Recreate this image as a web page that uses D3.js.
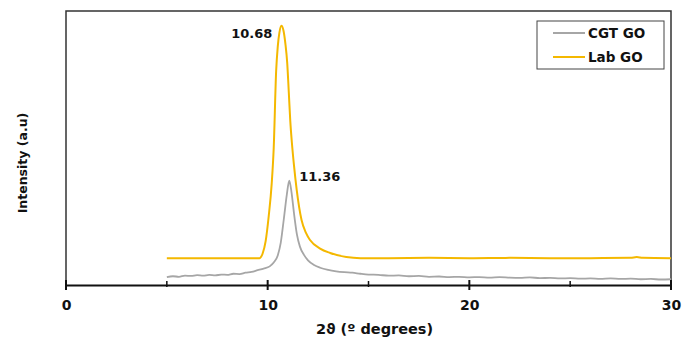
<!DOCTYPE html>
<html>
<head>
<meta charset="utf-8">
<script src="https://cdn.jsdelivr.net/npm/d3@7"></script>
<style>
  body { margin: 0; background: #fff; }
  text { font-family: "DejaVu Sans", Verdana, sans-serif; font-weight: bold; fill: #111; }
</style>
</head>
<body>
<div id="chart"></div>
<script>
// values: [2theta, intensity (arbitrary units)]
var cgtGO = [
  [5.0,2.9],[5.3,3.2],[5.6,3.0],[5.9,3.4],[6.2,3.3],[6.5,3.6],[6.8,3.4],[7.1,3.7],[7.4,3.5],[7.7,3.8],
  [8.0,3.7],[8.3,4.1],[8.6,4.0],[8.9,4.5],[9.2,4.8],[9.5,5.4],[9.8,6.0],[10.1,6.8],[10.3,8.2],[10.5,10.8],
  [10.65,15.5],[10.8,24],[10.95,33],[11.07,38.1],[11.18,34],[11.3,26.5],[11.45,18.5],[11.6,14],[11.8,11.0],
  [12.0,9.0],[12.3,7.3],[12.6,6.3],[13.0,5.5],[13.4,5.0],[13.8,4.7],[14.2,4.5],[14.6,4.1],[15.0,3.8],
  [15.5,3.7],[16.0,3.4],[16.5,3.5],[17.0,3.2],[17.5,3.3],[18.0,3.0],[18.5,3.1],[19.0,2.9],[19.5,3.0],
  [20.0,2.8],[20.5,2.9],[21.0,2.7],[21.5,2.9],[22.0,2.7],[22.5,2.6],[23.0,2.8],[23.5,2.5],[24.0,2.6],
  [24.5,2.4],[25.0,2.5],[25.5,2.3],[26.0,2.4],[26.5,2.2],[27.0,2.4],[27.5,2.2],[28.0,2.3],[28.5,2.1],
  [29.0,2.2],[29.5,2.0],[30.0,2.1]
];

var labGO = [
  [5.0,9.8],[6,9.8],[7,9.8],[8,9.8],[9,9.8],[9.6,9.8],[9.75,11.5],[9.9,16],[10.05,25],[10.2,37],
  [10.3,50],[10.42,78],[10.5,87],[10.58,92],[10.68,94.6],[10.78,93],[10.88,88],[10.97,81],[11.05,70],
  [11.12,60],[11.2,52],[11.3,44],[11.44,34.7],[11.68,23.7],[11.9,19],[12.1,16.4],[12.6,13.3],
  [13.1,11.7],[13.9,10.2],[14.6,9.8],[16,9.8],[18,9.9],[20,9.8],[22,9.9],[24,9.8],[26,9.8],[28,9.9],
  [28.3,10.2],[28.6,9.9],[30,9.8]
];

var seriesNames = ["CGT GO", "Lab GO"];
var seriesColors = ["#a6a6a6", "#f4b800"];
var peakLabels = [
  { text: "10.68", x: 10.68, y: 94.6, series: 1 },
  { text: "11.36", x: 11.07, y: 38.1, series: 0 }
];
var xTicks = [0, 10, 20, 30];
var xMinorTicks = [5, 15, 25];

var W = 685, H = 346;
var margin = {top: 11, right: 14, bottom: 61, left: 66};
var width = W - margin.left - margin.right,
    height = H - margin.top - margin.bottom;

var svg = d3.select("#chart").append("svg")
    .attr("width", W)
    .attr("height", H);
var g = svg.append("g")
    .attr("transform", "translate(" + margin.left + "," + margin.top + ")");

var x = d3.scaleLinear().domain([0, 30]).range([0, width]);
var y = d3.scaleLinear().domain([0, 100]).range([height, 0]);

// frame (top, right)
g.append("path")
  .attr("d", "M0," + height + "V0H" + width + "V" + height)
  .attr("fill", "none")
  .attr("stroke", "#333")
  .attr("stroke-width", 1.5);

var line = d3.line()
  .x(d => x(d[0]))
  .y(d => y(d[1]))
  .curve(d3.curveMonotoneX);

[cgtGO, labGO].forEach(function(data, i) {
  g.append("path")
    .datum(data)
    .attr("fill", "none")
    .attr("stroke", seriesColors[i])
    .attr("stroke-width", i == 0 ? 1.8 : 2)
    .attr("d", line);
});

// x axis
var xAxis = g.append("g")
  .attr("transform", "translate(0," + height + ")")
  .call(d3.axisBottom(x).tickValues(xTicks).tickSize(0).tickPadding(15));
xAxis.select(".domain").attr("stroke", "#111").attr("stroke-width", 2.2);
xAxis.selectAll("text").style("font-size", "14px").style("font-family", "DejaVu Sans");

xAxis.selectAll(".major").data(xTicks).enter().append("line")
  .attr("x1", d => x(d)).attr("x2", d => x(d))
  .attr("y1", -5).attr("y2", 5)
  .attr("stroke", "#111").attr("stroke-width", 2);
xAxis.selectAll(".minor").data(xMinorTicks).enter().append("line")
  .attr("x1", d => x(d)).attr("x2", d => x(d))
  .attr("y1", -4).attr("y2", 2)
  .attr("stroke", "#111").attr("stroke-width", 1.5);

// axis titles
svg.append("text")
  .attr("x", margin.left + width / 2 + 6)
  .attr("y", 334)
  .attr("text-anchor", "middle")
  .style("font-size", "14.5px")
  .text("2\u03D1 (\u00BA degrees)");

svg.append("text")
  .attr("transform", "translate(27," + (margin.top + height / 2 + 15) + ") rotate(-90)")
  .attr("text-anchor", "middle")
  .style("font-size", "12.5px")
  .text("Intensity (a.u)");

// peak labels
g.selectAll(".peak").data(peakLabels).enter().append("text")
  .attr("x", d => d.series == 1 ? x(d.x) - 9 : x(d.x) + 10)
  .attr("y", d => d.series == 1 ? y(d.y) + 12 : y(d.y))
  .attr("text-anchor", d => d.series == 1 ? "end" : "start")
  .style("font-size", "13px")
  .text(d => d.text);

// legend
var legend = svg.append("g").attr("transform", "translate(537,21)");
legend.append("rect")
  .attr("width", 127).attr("height", 48)
  .attr("fill", "#fff").attr("stroke", "#444").attr("stroke-width", 1);
seriesNames.forEach(function(name, i) {
  var ly = 12 + i * 24;
  legend.append("line")
    .attr("x1", 16).attr("x2", 48).attr("y1", ly).attr("y2", ly)
    .attr("stroke", seriesColors[i]).attr("stroke-width", 2);
  legend.append("text")
    .attr("x", 51).attr("y", ly + 5)
    .style("font-size", "13.5px")
    .text(name);
});
</script>
</body>
</html>
